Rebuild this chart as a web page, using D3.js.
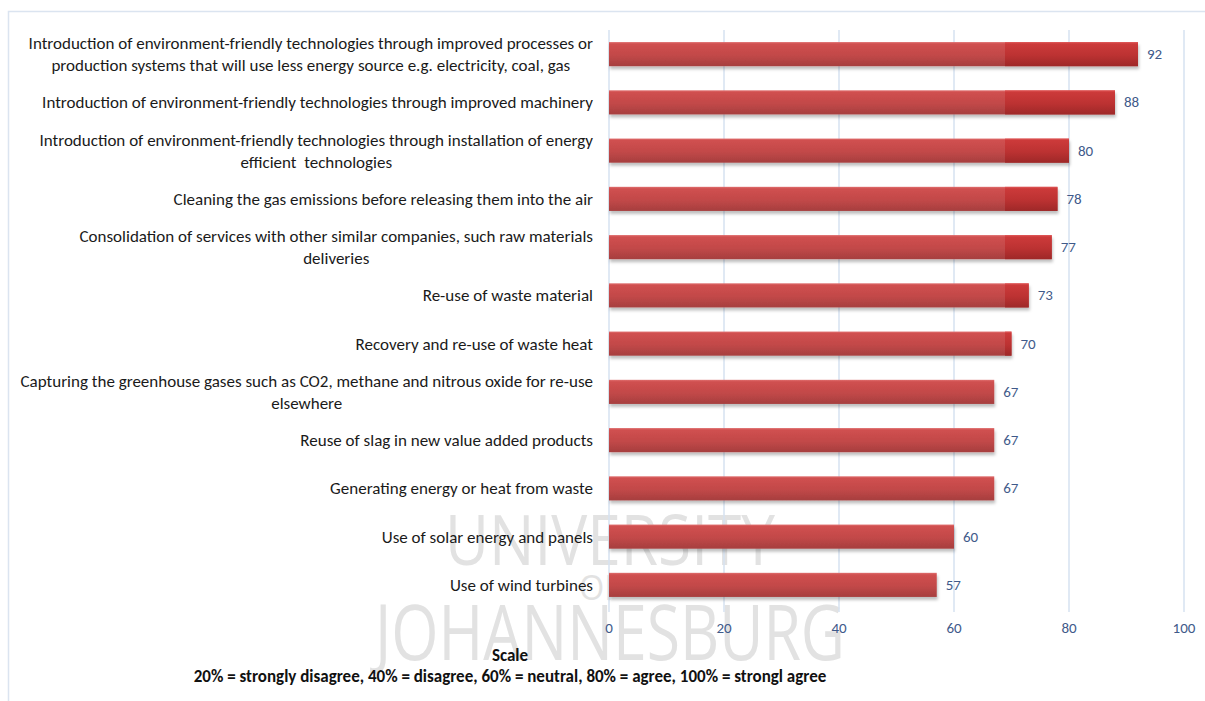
<!DOCTYPE html>
<html><head><meta charset="utf-8">
<script src="https://cdn.jsdelivr.net/npm/d3@7"></script>
<style>body{margin:0;background:#fff;} svg{display:block;} text{white-space:pre;}</style>
</head><body><svg id="c" width="1205" height="701"></svg>
<script>
const categories = [
  ["Introduction of environment-friendly technologies through improved processes or", "production systems that will use less energy source e.g. electricity, coal, gas"],
  ["Introduction of environment-friendly technologies through improved machinery"],
  ["Introduction of environment-friendly technologies through installation of energy", "efficient  technologies"],
  ["Cleaning the gas emissions before releasing them into the air"],
  ["Consolidation of services with other similar companies, such raw materials", "deliveries"],
  ["Re-use of waste material"],
  ["Recovery and re-use of waste heat"],
  ["Capturing the greenhouse gases such as CO2, methane and nitrous oxide for re-use", "elsewhere"],
  ["Reuse of slag in new value added products"],
  ["Generating energy or heat from waste"],
  ["Use of solar energy and panels"],
  ["Use of wind turbines"]
];
const values = [92, 88, 80, 78, 77, 73, 70, 67, 67, 67, 60, 57];
const xTicks = [0, 20, 40, 60, 80, 100];
const scaleTitle = "Scale";
const scaleNote = "20% = strongly disagree, 40% = disagree, 60% = neutral, 80% = agree, 100% = strongl agree";

const svg = d3.select("#c");
const font = "Carlito, Calibri, Lato, 'Open Sans', sans-serif";

// outer frame
svg.append("path").attr("d","M8.5,701 V11.5 H1205").attr("fill","none").attr("stroke","#dbe4f0").attr("stroke-width",1.5);

const defs = svg.append("defs");
const g1 = defs.append("linearGradient").attr("id","barGrad").attr("x1",0).attr("y1",0).attr("x2",0).attr("y2",1);
g1.append("stop").attr("offset","0%").attr("stop-color","#e07070");
g1.append("stop").attr("offset","8%").attr("stop-color","#d05050");
g1.append("stop").attr("offset","55%").attr("stop-color","#c24848");
g1.append("stop").attr("offset","100%").attr("stop-color","#a63f3f");
const g2 = defs.append("linearGradient").attr("id","barGrad2").attr("x1",0).attr("y1",0).attr("x2",0).attr("y2",1);
g2.append("stop").attr("offset","0%").attr("stop-color","#e05858");
g2.append("stop").attr("offset","8%").attr("stop-color","#cc3a3a");
g2.append("stop").attr("offset","55%").attr("stop-color","#bc3232");
g2.append("stop").attr("offset","100%").attr("stop-color","#9e2828");
const f = defs.append("filter").attr("id","shadow").attr("x","-5%").attr("y","-30%").attr("width","110%").attr("height","180%");
f.append("feDropShadow").attr("dx",1).attr("dy",3).attr("stdDeviation",1.5).attr("flood-color","#000").attr("flood-opacity",0.25);
const clip = defs.append("clipPath").attr("id","rightPart");

const x = d3.scaleLinear().domain([0,100]).range([609,1184]);
const y = d3.scaleBand().domain(d3.range(values.length)).range([30,609]).paddingInner(0.5).paddingOuter(0.25);

// watermark text
const wm = svg.append("g").attr("fill","#e2e2e2").attr("font-family","'Open Sans', sans-serif");
wm.append("text").attr("x",610).attr("y",565).attr("text-anchor","middle").attr("font-size",70).attr("textLength",330).attr("lengthAdjust","spacingAndGlyphs").text("UNIVERSITY");
wm.append("text").attr("x",600).attr("y",600).attr("text-anchor","middle").attr("font-size",34).attr("textLength",42).attr("lengthAdjust","spacingAndGlyphs").text("OF");
wm.append("text").attr("x",610).attr("y",660).attr("text-anchor","middle").attr("font-size",76).attr("textLength",470).attr("lengthAdjust","spacingAndGlyphs").text("JOHANNESBURG");

// gridlines
svg.append("g").selectAll("line").data(xTicks).join("line")
  .attr("x1",d=>x(d)).attr("x2",d=>x(d)).attr("y1",30).attr("y2",612)
  .attr("stroke","#d6e2f0").attr("stroke-width",1.5);

// bars
const bars = svg.append("g").attr("filter","url(#shadow)");
bars.selectAll("rect").data(values).join("rect")
  .attr("x",x(0)).attr("y",(d,i)=>y(i)).attr("width",d=>x(d)-x(0)).attr("height",y.bandwidth())
  .attr("fill","url(#barGrad)");
clip.append("rect").attr("x",1005).attr("y",0).attr("width",200).attr("height",701);
svg.append("g").attr("clip-path","url(#rightPart)").selectAll("rect").data(values).join("rect")
  .attr("x",x(0)).attr("y",(d,i)=>y(i)).attr("width",d=>x(d)-x(0)).attr("height",y.bandwidth())
  .attr("fill","url(#barGrad2)");

// value labels
svg.append("g").selectAll("text").data(values).join("text")
  .attr("x",d=>x(d)+9).attr("y",(d,i)=>y(i)+y.bandwidth()/2+5)
  .attr("font-family",font).attr("font-size",15).attr("fill","#3f5a8a").text(d=>d);

// x axis labels
svg.append("g").selectAll("text").data(xTicks).join("text")
  .attr("x",d=>x(d)).attr("y",633).attr("text-anchor","middle")
  .attr("font-family",font).attr("font-size",15).attr("fill","#3f5a8a").text(d=>d);

// category labels
const lab = svg.append("g").attr("font-family",font).attr("font-size",17).attr("fill","#1a1a1a");
categories.forEach((lines,i)=>{
  const cy = y(i)+y.bandwidth()/2;
  const lh = 22;
  const t = lab.append("text").attr("text-anchor","middle");
  const spans = lines.map((ln,k)=> t.append("tspan").attr("y", cy + (k - (lines.length-1)/2)*lh + 6).text(ln));
  const w = d3.max(spans, s=>s.node().getComputedTextLength());
  spans.forEach(s=>s.attr("x", 593 - w/2));
});

// scale note
svg.append("text").attr("x",510).attr("y",661).attr("text-anchor","middle").attr("font-family",font).attr("font-weight","bold").attr("font-size",17).attr("fill","#111").text(scaleTitle);
svg.append("text").attr("x",510).attr("y",682).attr("text-anchor","middle").attr("font-family",font).attr("font-weight","bold").attr("font-size",17).attr("fill","#111").text(scaleNote);
</script></body></html>
